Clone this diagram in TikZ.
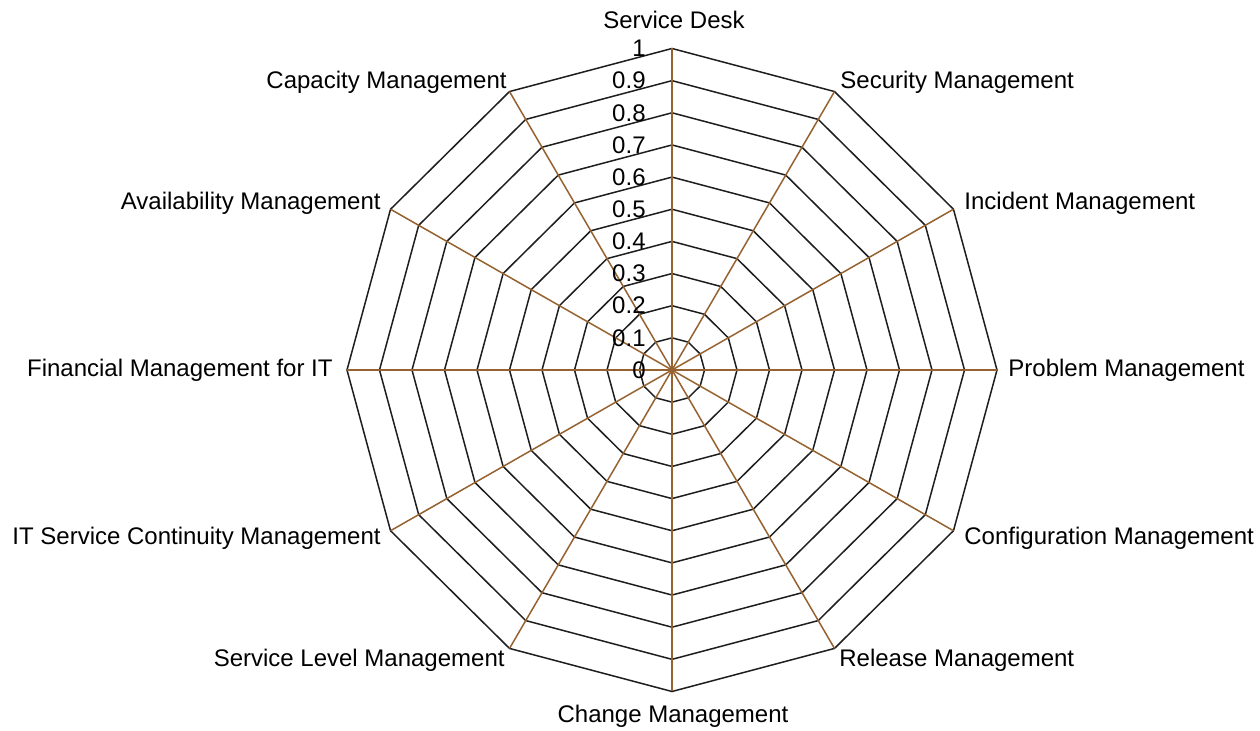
\documentclass[tikz,border=0pt]{standalone}
\usepackage{fontspec}
\setmainfont{Liberation Sans}
\usetikzlibrary{calc}
\definecolor{spokecol}{RGB}{150,98,48}
\definecolor{ringcol}{RGB}{30,30,30}
\tikzset{
  ring/.style={draw=ringcol, line width=0.75pt, line join=miter},
  spoke/.style={draw=spokecol, line width=0.75pt},
  axlabel/.style={inner sep=0pt, font=\fontsize{12}{14}\selectfont, text=black},
  ticklabel/.style={inner sep=0pt, anchor=east, font=\fontsize{12}{14}\selectfont, text=black},
}
\begin{document}
\begin{tikzpicture}[x=0.5pt,y=-0.5pt]
\useasboundingbox[fill=white] (0,0) rectangle (1260,731);
\coordinate (c) at (672,370);
\foreach \i in {0,...,11}{
  \coordinate (a\i) at ({672+325*cos(90-30*\i)},{370-321.5*sin(90-30*\i)});
}
% rings
\foreach \r in {0.1,0.2,0.3,0.4,0.5,0.6,0.7,0.8,0.9,1}{
  \draw[ring] ($(c)!\r!(a0)$) \foreach \i in {1,...,11}{ -- ($(c)!\r!(a\i)$) } -- cycle;
}
% spokes
\foreach \i in {0,...,11}{
  \draw[spoke] (c) -- (a\i);
}
\fill[spokecol] (c) circle (3);
% tick labels
\foreach \r/\t [count=\n] in {0/0,0.1/0.1,0.2/0.2,0.3/0.3,0.4/0.4,0.5/0.5,0.6/0.6,0.7/0.7,0.8/0.8,0.9/0.9,1/1}{
  \node[ticklabel] (t\n) at ({646},{370-321.5*\r}) {\t};
}
% axis labels
\node[axlabel, anchor=base] (l0) at (674,29) {Service Desk};
\node[axlabel, anchor=base west] (l1) at (840,89) {Security Management};
\node[axlabel, anchor=base west] (l2) at (964,210) {Incident Management};
\node[axlabel, anchor=base west] (l3) at (1008,377) {Problem Management};
\node[axlabel, anchor=base west] (l4) at (964,545) {Configuration Management};
\node[axlabel, anchor=base west] (l5) at (839,667) {Release Management};
\node[axlabel, anchor=base] (l6) at (673,723) {Change Management};
\node[axlabel, anchor=base east] (l7) at (505,667) {Service Level Management};
\node[axlabel, anchor=base east] (l8) at (381,545) {IT Service Continuity Management};
\node[axlabel, anchor=base east] (l9) at (333,377) {Financial Management for IT};
\node[axlabel, anchor=base east] (l10) at (381,210) {Availability Management};
\node[axlabel, anchor=base east] (l11) at (507,89) {Capacity Management};
\end{tikzpicture}
\end{document}
